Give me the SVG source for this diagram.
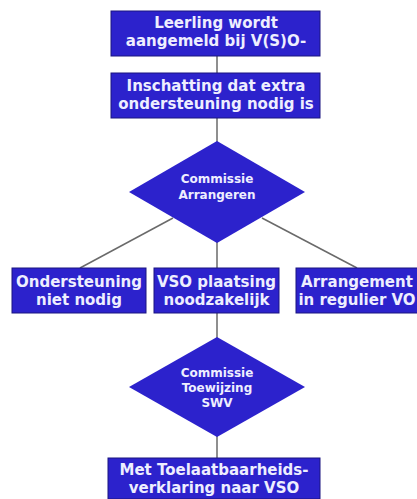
<svg xmlns="http://www.w3.org/2000/svg" width="417" height="499" viewBox="0 0 417 499">
<style>
.box{fill:#2c22cc;stroke:#1a1480;stroke-width:1}
.dia{fill:#2c22cc;stroke:none}
.t{font-family:"DejaVu Sans",Verdana,sans-serif;font-weight:bold;fill:#eeeeff;text-anchor:middle}
.bt{font-size:15px}
.dt{font-size:12px}
.c{stroke:#6a6a6a;stroke-width:1.5;fill:none}
</style>
<rect width="417" height="499" fill="#ffffff"/>
<g id="connectors">
<line class="c" x1="217" y1="56" x2="217" y2="73"/>
<line class="c" x1="217" y1="118" x2="217" y2="142"/>
<line class="c" x1="173" y1="218" x2="80" y2="268"/>
<line class="c" x1="262" y1="218" x2="357" y2="268"/>
<line class="c" x1="217" y1="240" x2="217" y2="268"/>
<line class="c" x1="217" y1="313" x2="217" y2="338"/>
<line class="c" x1="217" y1="435" x2="217" y2="458"/>
</g>
<g id="n1">
<rect class="box" x="111" y="11" width="209" height="45"/>
<text class="t bt" x="216" y="28">Leerling wordt</text>
<text class="t bt" x="216" y="46">aangemeld bij V(S)O-</text>
</g>
<g id="n2">
<rect class="box" x="111" y="73" width="209" height="45"/>
<text class="t bt" x="216" y="91">Inschatting dat extra</text>
<text class="t bt" x="216" y="109">ondersteuning nodig is</text>
</g>
<g id="d1">
<polygon class="dia" points="217,141 305,192 217,243 129,192"/>
<text class="t dt" x="217" y="183">Commissie</text>
<text class="t dt" x="217" y="199">Arrangeren</text>
</g>
<g id="n3">
<rect class="box" x="12" y="268" width="134" height="45"/>
<text class="t bt" x="79" y="287">Ondersteuning</text>
<text class="t bt" x="79" y="305">niet nodig</text>
</g>
<g id="n4">
<rect class="box" x="154" y="268" width="125" height="45"/>
<text class="t bt" x="216.5" y="287">VSO plaatsing</text>
<text class="t bt" x="216.5" y="305">noodzakelijk</text>
</g>
<g id="n5">
<rect class="box" x="296" y="268" width="125" height="45"/>
<text class="t bt" x="357" y="287">Arrangement</text>
<text class="t bt" x="357" y="305">in regulier VO</text>
</g>
<g id="d2">
<polygon class="dia" points="217,337 305,387 217,437 129,387"/>
<text class="t dt" x="217" y="377">Commissie</text>
<text class="t dt" x="217" y="392">Toewijzing</text>
<text class="t dt" x="217" y="407">SWV</text>
</g>
<g id="n6">
<rect class="box" x="108" y="458" width="212" height="41"/>
<text class="t bt" x="214" y="475">Met Toelaatbaarheids-</text>
<text class="t bt" x="214" y="493">verklaring naar VSO</text>
</g>
</svg>
